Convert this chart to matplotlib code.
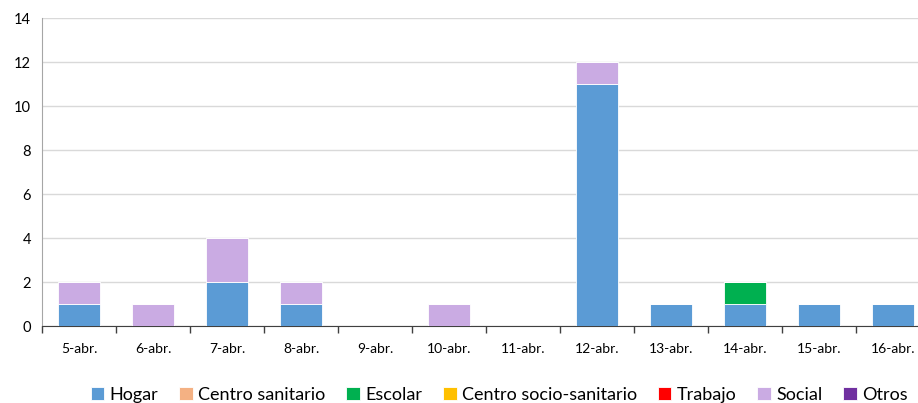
import numpy as np
import matplotlib
matplotlib.use("Agg")
import matplotlib.pyplot as plt

plt.rcParams["font.family"] = ["Lato", "DejaVu Sans"]

# ── data ─────────────────────────────────────────────
dias = ["5-abr.", "6-abr.", "7-abr.", "8-abr.", "9-abr.", "10-abr.",
        "11-abr.", "12-abr.", "13-abr.", "14-abr.", "15-abr.", "16-abr."]

hogar            = [1, 0, 2, 1, 0, 0, 0, 11, 1, 1, 1, 1]
centro_sanitario = [0, 0, 0, 0, 0, 0, 0, 0, 0, 0, 0, 0]
escolar          = [0, 0, 0, 0, 0, 0, 0, 0, 0, 1, 0, 0]
centro_socio     = [0, 0, 0, 0, 0, 0, 0, 0, 0, 0, 0, 0]
trabajo          = [0, 0, 0, 0, 0, 0, 0, 0, 0, 0, 0, 0]
social           = [1, 1, 2, 1, 0, 1, 0, 1, 0, 0, 0, 0]
otros            = [0, 0, 0, 0, 0, 0, 0, 0, 0, 0, 0, 0]

series = [
    ("Hogar", hogar, "#5B9BD5"),
    ("Centro sanitario", centro_sanitario, "#F4B183"),
    ("Escolar", escolar, "#00B050"),
    ("Centro socio-sanitario", centro_socio, "#FFC000"),
    ("Trabajo", trabajo, "#FF0000"),
    ("Social", social, "#CAABE3"),
    ("Otros", otros, "#7030A0"),
]

# ── plot ─────────────────────────────────────────────
fig = plt.figure(figsize=(9.18, 4.03), dpi=100)
ax = fig.add_axes([42 / 918, 1 - 326 / 403, 888 / 918, 308 / 403])

x = np.arange(len(dias))
bottom = np.zeros(len(dias))
for name, vals, col in series:
    vals = np.array(vals, dtype=float)
    ax.bar(x, vals, width=0.56, bottom=bottom, color=col, label=name,
           edgecolor="white", linewidth=0.6, zorder=3)
    bottom += vals

ax.set_xlim(-0.5, len(dias) - 0.5)
ax.set_ylim(0, 14)
ax.set_yticks(range(0, 15, 2))
ax.yaxis.grid(True, color="#D9D9D9", linewidth=1.0, zorder=0)
ax.tick_params(axis="y", length=0, labelsize=10.5, pad=8)

ax.set_xticks(x)
ax.set_xticklabels(dias, fontsize=10)
ax.set_xticks(np.arange(-0.5, len(dias)), minor=True)
ax.tick_params(axis="x", which="major", length=0, pad=12)
ax.tick_params(axis="x", which="minor", length=5, width=1, color="#404040")

for s in ["top", "right"]:
    ax.spines[s].set_visible(False)
ax.spines["left"].set_color("#A6A6A6")
ax.spines["bottom"].set_color("#404040")

fig.legend(loc="lower center", ncol=7, bbox_to_anchor=(0.544, -0.04),
           frameon=False, fontsize=13, handlelength=0.75, handleheight=0.75,
           handletextpad=0.3, columnspacing=1.15)

fig.savefig("out.png", dpi=100)
